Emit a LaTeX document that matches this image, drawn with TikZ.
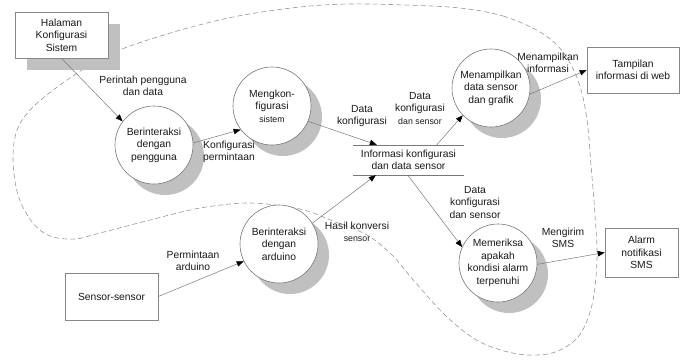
\documentclass[tikz,border=0pt]{standalone}
\usepackage{fontspec}
\setmainfont{Liberation Sans}
\usetikzlibrary{arrows.meta,shadows,calc}
\definecolor{shadowgray}{RGB}{192,192,192}
\definecolor{linegray}{RGB}{120,120,120}
\definecolor{boxgray}{RGB}{135,135,135}
\definecolor{dashgray}{RGB}{150,150,150}
\definecolor{txt}{RGB}{25,25,25}
\begin{document}
\begin{tikzpicture}[x=1pt,y=-1pt,
  every node/.style={font=\fontsize{10.3}{12.5}\selectfont, text=txt},
  proc/.style={circle, draw=linegray, line width=0.6pt, fill=white, minimum size=78pt, inner sep=0pt, align=center,
    general shadow={fill=shadowgray, draw=none, shadow xshift=11pt, shadow yshift=-11pt}},
  ext/.style={rectangle, draw=boxgray, line width=0.6pt, fill=white, align=center, inner sep=0pt},
  flow/.style={draw=linegray, line width=0.5pt, -{Triangle[length=7pt,width=5.5pt,color=black]}},
  lbl/.style={align=center, inner sep=0pt},
  smalltext/.style={font=\fontsize{8.8}{12.5}\selectfont},
  boundary/.style={draw=dashgray, line width=0.6pt, dash pattern=on 5pt off 3pt}]
\useasboundingbox (0,0) rectangle (685,360);

% boundary
\draw[boundary] plot[smooth cycle, tension=0.55] coordinates {
 (460,8) (503,16) (540,32) (563,52) (579,83) (587,120) (591,165) (595,215)
 (597,260) (592,305) (578,337) (552,353) (518,354) (480,342) (447,317)
 (415,282) (392,255) (367,235) (333,221) (300,209) (250,203) (200,208)
 (150,220) (100,233) (75,239) (50,236) (32,222) (18,195) (13,160) (17,130)
 (33,107) (67,80) (110,54) (167,34) (233,17) (300,7) (350,4) (405,5)};

% external entities
\node[ext, minimum width=93pt, minimum height=46pt,
  general shadow={fill=shadowgray, draw=none, shadow xshift=12pt, shadow yshift=-11.5pt}]
  (h) at (61.5,35) {Halaman\\Konfigurasi\\Sistem};
\node[ext, minimum width=92pt, minimum height=46pt] (tw) at (633,70) {Tampilan\\informasi di web};
\node[ext, minimum width=73pt, minimum height=49pt] (al) at (641.5,252.5) {Alarm\\notifikasi\\SMS};
\node[ext, minimum width=93pt, minimum height=47pt] (ss) at (111.5,296.5) {Sensor-sensor};

% processes
\node[proc] (p1) at (154,145) {Berinteraksi\\dengan\\pengguna};
\node[proc] (p2) at (272,106) {Mengkon-\\figurasi\\{\fontsize{8.8}{12.5}\selectfont sistem}};
\node[proc] (p3) at (491,88) {Menampilkan\\data sensor\\dan grafik};
\node[proc] (p4) at (498,263) {Memeriksa\\apakah\\kondisi alarm\\terpenuhi};
\node[proc] (p5) at (279,244) {Berinteraksi\\dengan\\arduino};

% data store
\node[lbl, minimum width=111pt, minimum height=30pt] (ds) at (408.5,160) {Informasi konfigurasi\\dan data sensor};
\draw[draw=linegray, line width=0.6pt] (ds.north west) -- (ds.north east);
\draw[draw=linegray, line width=0.6pt] (ds.south west) -- (ds.south east);

% flows
\draw[flow] (h.south) -- (p1.143);
\draw[flow] (p1.3) -- (p2.217);
\draw[flow] (p2.337) -- ([xshift=24pt]ds.north west);
\draw[flow] ([xshift=84pt]ds.north west) -- (p3.224);
\draw[flow] (p3.351) -- (tw.west);
\draw[flow] ([xshift=55pt]ds.south west) -- (p4.156);
\draw[flow] (p4.358) -- (al.west);
\draw[flow] (ss.east) -- (p5.206);
\draw[flow] (p5.32) -- ([xshift=23pt]ds.south west);

% labels
\node[lbl] (l1) at (143,86) {Perintah pengguna\\dan data};
\node[lbl] (l2) at (229,152) {Konfigurasi\\permintaan};
\node[lbl] (l3) at (362,116) {Data\\konfigurasi};
\node[lbl] (l4) at (420,108) {Data\\konfigurasi\\{\fontsize{8.8}{12.5}\selectfont dan sensor}};
\node[lbl] (l5) at (548,63) {Menampilkan\\informasi};
\node[lbl] (l6) at (475,202) {Data\\konfigurasi\\dan sensor};
\node[lbl] (l7) at (563,238) {Mengirim\\SMS};
\node[lbl] (l8) at (193,261) {Permintaan\\arduino};
\node[lbl] (l9) at (357,232) {Hasil konversi\\{\fontsize{8.8}{12.5}\selectfont sensor}};
\end{tikzpicture}
\end{document}
